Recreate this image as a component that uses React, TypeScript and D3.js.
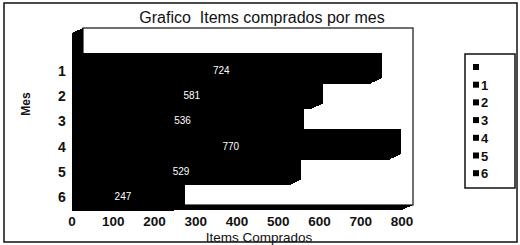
import React from 'react';
import * as d3 from 'd3';

// datos
const months = ['1', '2', '3', '4', '5', '6'];
const items = [724, 581, 536, 770, 529, 247];
const xTicks = [0, 100, 200, 300, 400, 500, 600, 700, 800];
const legendLabels = ['', '1', '2', '3', '4', '5', '6'];

const W = 520;
const H = 245;
const font = '"Liberation Sans", Arial, sans-serif';

// profundidad 3D
const dx = 11;
const dy = 5;

const App = () => {
  const x = d3.scaleLinear().domain([0, 800]).range([72, 402]);
  const y = d3.scaleBand<string>().domain(months).range([58, 210]).padding(0);

  const left = x(0);
  const bottom = 210;
  const wallTop = 28;
  const wallRight = 413;

  const poly = (pts: [number, number][]) => pts.map((p) => p.join(',')).join(' ');

  return (
    <svg
      width={W}
      height={H}
      style={{ position: 'absolute', left: 0, top: 0, background: '#fff' }}
      fontFamily={font}
    >
      <rect x={0} y={0} width={W} height={H} fill="#fff" />
      {/* marco exterior */}
      <rect x={4} y={3} width={513} height={239} fill="none" stroke="#111" strokeWidth={1.5} />

      <text x={262} y={23} textAnchor="middle" fontSize={16} fill="#111">
        Grafico&#160; Items comprados por mes
      </text>

      {/* pared del fondo */}
      <rect
        x={left + dx}
        y={wallTop}
        width={wallRight - left - dx}
        height={bottom - dy - wallTop}
        fill="#fff"
        stroke="#111"
        strokeWidth={1.2}
      />
      <g shapeRendering="crispEdges">
        {/* pared lateral */}
        <polygon
          points={poly([
            [left, wallTop + dy],
            [left + dx, wallTop],
            [left + dx, bottom - dy],
            [left, bottom],
          ])}
          fill="#000"
        />
        {/* piso */}
        <polygon
          points={poly([
            [left, bottom],
            [left + dx, bottom - dy],
            [wallRight, bottom - dy],
            [wallRight - dx, bottom],
          ])}
          fill="#000"
        />

        {/* barras */}
        {items.map((v, i) => {
          const y0 = y(months[i]) as number;
          const y1 = y0 + y.bandwidth();
          const xv = x(v);
          return (
            <g key={i}>
              <rect x={left} y={y0} width={xv - left} height={y1 - y0 + 0.5} fill="#000" />
              <polygon
                points={poly([
                  [left, y0],
                  [left + dx, y0 - dy],
                  [xv + dx, y0 - dy],
                  [xv, y0],
                ])}
                fill="#000"
              />
              <polygon
                points={poly([
                  [xv, y0],
                  [xv + dx, y0 - dy],
                  [xv + dx, y1 - dy],
                  [xv, y1],
                ])}
                fill="#000"
              />
            </g>
          );
        })}
      </g>

      {items.map((v, i) => (
        <text
          key={i}
          x={x(v / 2)}
          y={(y(months[i]) as number) + y.bandwidth() / 2 + 3}
          textAnchor="middle"
          fontSize={10}
          fill="#fff"
        >
          {v}
        </text>
      ))}

      {/* eje y */}
      {months.map((m) => (
        <text
          key={m}
          x={62}
          y={(y(m) as number) + y.bandwidth() / 2 + 5}
          textAnchor="middle"
          fontSize={14}
          fontWeight="bold"
          fill="#111"
        >
          {m}
        </text>
      ))}
      <text
        transform="translate(30,104) rotate(-90)"
        textAnchor="middle"
        fontSize={12}
        fontWeight="bold"
        fill="#111"
      >
        Mes
      </text>

      {/* eje x */}
      {xTicks.map((t) => (
        <text
          key={t}
          x={x(t)}
          y={226}
          textAnchor="middle"
          fontSize={13.5}
          fontWeight="bold"
          fill="#111"
        >
          {t}
        </text>
      ))}
      <text x={259} y={241.5} textAnchor="middle" fontSize={13.5} fill="#111">
        Items Comprados
      </text>

      {/* leyenda */}
      <rect x={465} y={54} width={50} height={134} fill="#fff" stroke="#111" strokeWidth={1.5} />
      {legendLabels.map((l, i) => {
        const ly = 67 + i * 17.7;
        return (
          <g key={i}>
            <rect x={473} y={ly - 3} width={6} height={6} fill="#000" />
            <text x={481} y={ly + 5} fontSize={13} fontWeight="bold" fill="#111">
              {l}
            </text>
          </g>
        );
      })}
    </svg>
  );
};

export default App;
